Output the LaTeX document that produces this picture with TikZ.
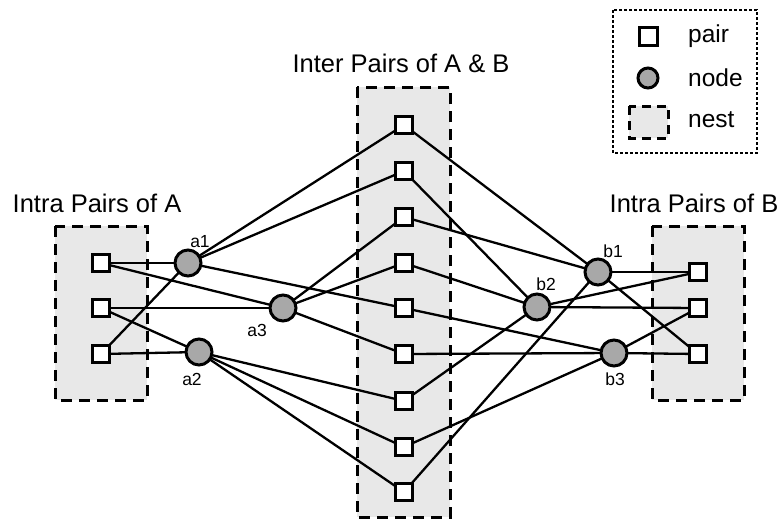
\documentclass[tikz,border=0pt]{standalone}
\usepackage{fontspec}
\setmainfont{Liberation Sans}
\usetikzlibrary{backgrounds}
\pgfdeclarelayer{edgelayer}
\pgfsetlayers{background,edgelayer,main}
\definecolor{nestgray}{HTML}{E8E8E8}
\definecolor{hubgray}{HTML}{A8A8A8}
\tikzset{
  pairbox/.style={draw, line width=3pt, fill=white, minimum size=17pt, inner sep=0pt},
  hub/.style={circle, draw, line width=3pt, fill=hubgray, minimum size=26pt, inner sep=0pt},
  nestbox/.style={draw, dash pattern=on 11pt off 7pt, line width=3pt, fill=nestgray},
  link/.style={line width=2.3pt},
  lbl/.style={font=\fontsize{17.5}{19}\selectfont, inner sep=0pt},
  title/.style={font=\fontsize{25.5}{28}\selectfont, inner sep=0pt, anchor=base},
  legtext/.style={font=\fontsize{24.5}{28}\selectfont, inner sep=0pt, anchor=west}
}
\begin{document}
\begin{tikzpicture}[x=1pt,y=-1pt]
\useasboundingbox (0,0) rectangle (782,520);
% nests
\begin{pgfonlayer}{background}
  \draw[nestbox] (55,226) rectangle (147,400);
  \draw[nestbox] (357,87) rectangle (450,517);
  \draw[nestbox] (652,226) rectangle (744,400);
\end{pgfonlayer}
% titles
\node[title] (tA) at (97,212) {Intra Pairs of A};
\node[title] (tM) at (401,72) {Inter Pairs of A \& B};
\node[title] (tB) at (694,212) {Intra Pairs of B};
% left pairs
\node[pairbox] (L1) at (101,263) {};
\node[pairbox] (L2) at (101,308) {};
\node[pairbox] (L3) at (101,354) {};
% middle pairs
\foreach \i/\y in {1/125,2/171,3/217,4/263,5/308,6/354,7/401,8/447,9/492}
  \node[pairbox] (M\i) at (404,\y) {};
% right pairs
\node[pairbox] (R1) at (698,272) {};
\node[pairbox] (R2) at (698,308) {};
\node[pairbox] (R3) at (698,354) {};
% hubs
\node[hub] (a1) at (188,263) {};
\node[hub] (a3) at (283,308) {};
\node[hub] (a2) at (199,352) {};
\node[hub] (b1) at (598,272) {};
\node[hub] (b2) at (537,307) {};
\node[hub] (b3) at (614,353) {};
% hub labels
\node[lbl] (la1) at (200,242) {a1};
\node[lbl] (la3) at (257,330) {a3};
\node[lbl] (la2) at (192,379) {a2};
\node[lbl] (lb1) at (613,251) {b1};
\node[lbl] (lb2) at (546,284) {b2};
\node[lbl] (lb3) at (615,379) {b3};
% edges
\begin{pgfonlayer}{edgelayer}
  \foreach \u/\v in {L1/a1,L1/a3,L2/a3,L2/a2,L3/a2,L3/a1,
                     a1/M1,a1/M2,a1/M5,
                     a3/M3,a3/M4,a3/M6,
                     a2/M7,a2/M8,a2/M9,
                     M1/b1,M2/b2,M3/b1,M4/b2,M5/b3,M6/b3,M7/b2,M8/b3,M9/b1,
                     b1/R1,b1/R3,b2/R1,b2/R2,b3/R3,b3/R2}
    \draw[link] (\u.center) -- (\v.center);
\end{pgfonlayer}
% legend
\draw[dash pattern=on 3pt off 2pt, line width=1.2pt] (613,10) rectangle (757,153);
\node[pairbox, minimum size=18pt] (kp) at (648,36) {};
\node[hub, minimum size=20pt] (kn) at (648,78) {};
\draw[nestbox, dash pattern=on 9pt off 6pt] (629,106) rectangle (668,138);
\node[legtext] (tp) at (688,36) {pair};
\node[legtext] (tn) at (688,78) {node};
\node[legtext] (tnest) at (688,120) {nest};
\end{tikzpicture}
\end{document}
